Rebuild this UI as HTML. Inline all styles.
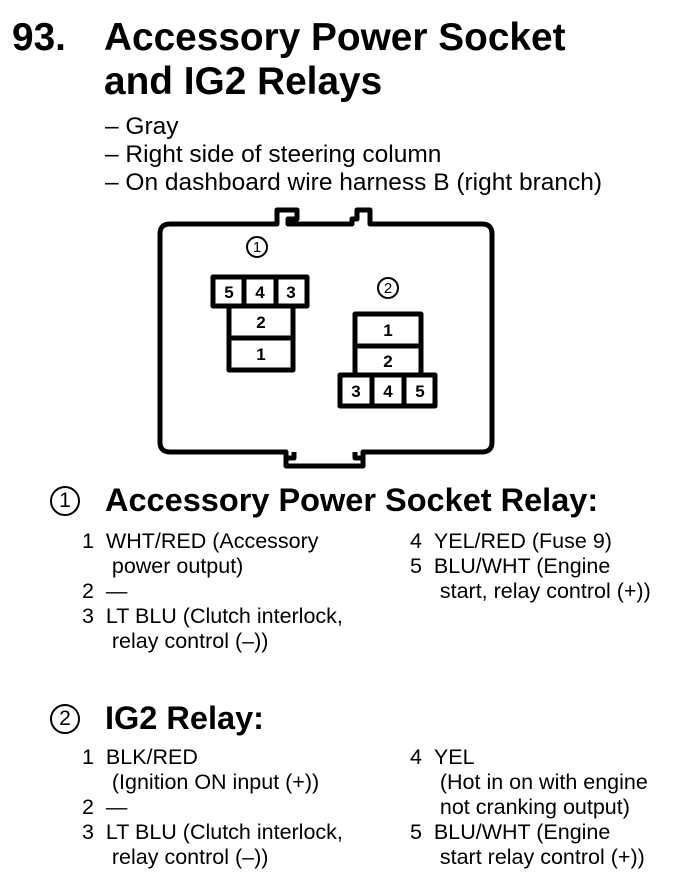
<!DOCTYPE html>
<html><head><meta charset="utf-8"><style>
body{margin:0;width:688px;height:896px;background:#fff;position:relative;font-family:"Liberation Sans",Arial,sans-serif;color:#000;overflow:hidden}
.t{position:absolute;white-space:nowrap}
.h{font-weight:bold;font-size:38.8px}
.s{font-size:24.5px}
.h2{font-weight:bold;font-size:32.5px}
.b{font-size:21.5px;line-height:25px}
.c{display:inline-block;width:26px;height:26px;border:2px solid #000;border-radius:50%;font-size:21px;line-height:26px;text-align:center;font-weight:normal;box-sizing:content-box}
</style></head><body>
<div class="t h" style="left:12px;top:16px">93.</div>
<div class="t h" style="left:104px;top:16px">Accessory Power Socket</div>
<div class="t h" style="left:104px;top:60px">and IG2 Relays</div>
<div class="t s" style="left:105px;top:113px">– Gray</div>
<div class="t s" style="left:105px;top:141px">– Right side of steering column</div>
<div class="t s" style="left:105px;top:169px">– On dashboard wire harness B (right branch)</div>

<svg style="position:absolute;left:0;top:0" width="688" height="896">
<g fill="none" stroke="#000" stroke-width="5" stroke-linejoin="round">
<path d="M170,224 H277 V210 H297 V219 H288 V224 H352 V219 H357 V210 H370 V224 H482 Q492,224 492,234 V442 Q492,452 482,452 H363 V466 H286 V452 H170 Q160,452 160,442 V234 Q160,224 170,224 Z"/>
<path d="M286,452 V458 H294 V452 M363,452 V458 H355 V452"/>
<rect x="213" y="277" width="94" height="29"/>
<line x1="244" y1="277" x2="244" y2="306"/><line x1="276" y1="277" x2="276" y2="306"/>
<rect x="229" y="306" width="64" height="64"/>
<line x1="229" y1="338" x2="293" y2="338"/>
<rect x="355" y="314" width="66" height="61"/>
<line x1="355" y1="346" x2="421" y2="346"/>
<rect x="340" y="375" width="95" height="31"/>
<line x1="372" y1="375" x2="372" y2="406"/><line x1="404" y1="375" x2="404" y2="406"/>
<circle cx="257" cy="247" r="10" stroke-width="2"/>
<circle cx="388" cy="288" r="10" stroke-width="2"/>
</g>
<g font-family="Liberation Sans,Arial,sans-serif" font-weight="bold" font-size="17" text-anchor="middle">
<text x="229" y="298">5</text><text x="260" y="298">4</text><text x="291" y="298">3</text>
<text x="261" y="328">2</text><text x="261" y="360">1</text>
<text x="388" y="336">1</text><text x="388" y="367">2</text>
<text x="356" y="397">3</text><text x="388" y="397">4</text><text x="420" y="397">5</text>
</g>
<g font-family="Liberation Sans,Arial,sans-serif" font-size="15" text-anchor="middle">
<text x="257" y="252">1</text><text x="388" y="293">2</text>
</g>
</svg>

<div class="t c" style="left:50px;top:486px">1</div>
<div class="t h2" style="left:105px;top:482px">Accessory Power Socket Relay:</div>
<div class="t b" style="left:82px;top:529px">1 &nbsp;WHT/RED (Accessory<br>&nbsp;&nbsp;&nbsp;&nbsp; power output)<br>2 &nbsp;—<br>3 &nbsp;LT BLU (Clutch interlock,<br>&nbsp;&nbsp;&nbsp;&nbsp; relay control (–))</div>
<div class="t b" style="left:410px;top:529px">4 &nbsp;YEL/RED (Fuse 9)<br>5 &nbsp;BLU/WHT (Engine<br>&nbsp;&nbsp;&nbsp;&nbsp; start, relay control (+))</div>

<div class="t c" style="left:50px;top:704px">2</div>
<div class="t h2" style="left:105px;top:700px">IG2 Relay:</div>
<div class="t b" style="left:82px;top:745px">1 &nbsp;BLK/RED<br>&nbsp;&nbsp;&nbsp;&nbsp; (Ignition ON input (+))<br>2 &nbsp;—<br>3 &nbsp;LT BLU (Clutch interlock,<br>&nbsp;&nbsp;&nbsp;&nbsp; relay control (–))</div>
<div class="t b" style="left:410px;top:745px">4 &nbsp;YEL<br>&nbsp;&nbsp;&nbsp;&nbsp; (Hot in on with engine<br>&nbsp;&nbsp;&nbsp;&nbsp; not cranking output)<br>5 &nbsp;BLU/WHT (Engine<br>&nbsp;&nbsp;&nbsp;&nbsp; start relay control (+))</div>
</body></html>
